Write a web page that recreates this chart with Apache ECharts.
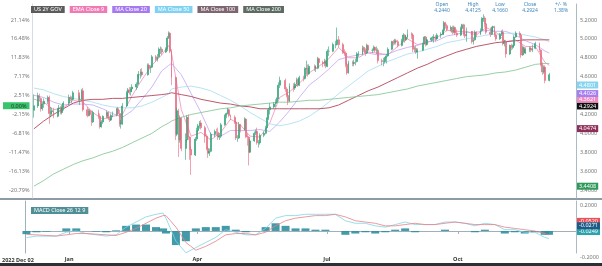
<!DOCTYPE html>
<html><head><meta charset="utf-8">
<script src="https://cdn.jsdelivr.net/npm/echarts@6/dist/echarts.min.js"></script>
<style>html,body{margin:0;padding:0;background:#fff}#c{width:602px;height:266px}</style>
</head><body><div id="c"></div>
<script>
// rows: [day, open, close, low, high]
const dec22 = [[2,4.244,4.2924,4.166,4.4125],[5,4.29,4.40,4.27,4.43],[6,4.40,4.37,4.34,4.42],[7,4.37,4.26,4.23,4.38],[8,4.26,4.31,4.24,4.33],[9,4.31,4.34,4.27,4.37],[12,4.34,4.38,4.31,4.40],[13,4.38,4.21,4.10,4.40],[14,4.21,4.23,4.17,4.28],[15,4.23,4.24,4.19,4.27],[16,4.24,4.18,4.16,4.27],[19,4.18,4.26,4.17,4.27],[20,4.26,4.27,4.21,4.30],[21,4.27,4.22,4.20,4.29],[22,4.22,4.28,4.20,4.30],[23,4.28,4.32,4.24,4.34],[27,4.32,4.38,4.30,4.41],[28,4.38,4.36,4.34,4.40],[29,4.36,4.36,4.32,4.39],[30,4.36,4.43,4.35,4.45]];
const jan23 = [[3,4.43,4.36,4.33,4.46],[4,4.36,4.36,4.30,4.40],[5,4.36,4.45,4.34,4.47],[6,4.45,4.25,4.23,4.48],[9,4.25,4.19,4.17,4.28],[10,4.19,4.24,4.18,4.26],[11,4.24,4.20,4.18,4.26],[12,4.20,4.12,4.08,4.24],[13,4.12,4.22,4.11,4.24],[17,4.22,4.18,4.15,4.25],[18,4.18,4.07,4.05,4.21],[19,4.07,4.12,4.06,4.14],[20,4.12,4.18,4.10,4.19],[23,4.18,4.22,4.16,4.24],[24,4.22,4.16,4.14,4.23],[25,4.16,4.14,4.12,4.18],[26,4.14,4.19,4.13,4.21],[27,4.19,4.20,4.17,4.23],[30,4.20,4.26,4.18,4.27],[31,4.26,4.21,4.19,4.28]];
const feb23 = [[1,4.21,4.10,4.07,4.25],[2,4.10,4.10,4.05,4.14],[3,4.10,4.29,4.09,4.32],[6,4.29,4.43,4.28,4.45],[7,4.43,4.46,4.37,4.48],[8,4.46,4.44,4.41,4.49],[9,4.44,4.47,4.40,4.49],[10,4.47,4.49,4.44,4.52],[13,4.49,4.52,4.46,4.54],[14,4.52,4.62,4.48,4.63],[15,4.62,4.62,4.58,4.66],[16,4.62,4.65,4.58,4.68],[17,4.65,4.62,4.60,4.69],[21,4.62,4.72,4.61,4.74],[22,4.72,4.69,4.67,4.74],[23,4.69,4.70,4.64,4.72],[24,4.70,4.81,4.69,4.83],[27,4.81,4.78,4.76,4.83],[28,4.78,4.81,4.76,4.84]];
const mar23 = [[1,4.81,4.89,4.80,4.91],[2,4.89,4.89,4.84,4.92],[3,4.89,4.86,4.83,4.91],[6,4.86,4.89,4.85,4.91],[7,4.89,5.01,4.87,5.03],[8,5.01,5.06,5.00,5.08],[9,5.06,4.87,4.85,5.07],[10,4.87,4.59,4.51,4.89],[13,4.59,3.99,3.93,4.60],[14,3.99,4.24,3.97,4.27],[15,4.24,3.93,3.75,4.26],[16,3.93,4.16,3.90,4.19],[17,4.16,3.84,3.81,4.17],[20,3.84,3.93,3.72,4.00],[21,3.93,4.17,3.91,4.19],[22,4.17,3.96,3.93,4.20],[23,3.96,3.83,3.72,3.97],[24,3.83,3.77,3.56,3.86],[27,3.77,3.94,3.76,3.96],[28,3.94,4.03,3.92,4.06],[29,4.03,4.08,4.01,4.10],[30,4.08,4.11,4.05,4.13],[31,4.11,4.06,4.04,4.14]];
const apr23 = [[3,4.06,3.97,3.90,4.08],[4,3.97,3.84,3.82,3.99],[5,3.84,3.79,3.74,3.86],[6,3.79,3.81,3.76,3.84],[7,3.81,3.99,3.80,4.01],[10,3.99,4.02,3.96,4.04],[11,4.02,4.01,3.98,4.05],[12,4.01,3.96,3.93,4.06],[13,3.96,3.97,3.93,4.00],[14,3.97,4.09,3.95,4.11],[17,4.09,4.19,4.08,4.20],[18,4.19,4.21,4.16,4.22],[19,4.21,4.25,4.20,4.27],[20,4.25,4.19,4.17,4.26],[21,4.19,4.17,4.14,4.20],[24,4.17,4.12,4.10,4.19],[25,4.12,3.95,3.93,4.13],[26,3.95,3.95,3.91,3.98],[27,3.95,4.09,3.94,4.12],[28,4.09,4.04,4.01,4.10]];
const may23 = [[1,4.04,4.15,4.03,4.17],[2,4.15,3.97,3.95,4.16],[3,3.97,3.96,3.87,4.00],[4,3.96,3.80,3.66,3.97],[5,3.80,3.92,3.79,3.94],[8,3.92,4.00,3.91,4.02],[9,4.00,4.02,3.98,4.04],[10,4.02,3.90,3.88,4.06],[11,3.90,3.90,3.85,3.93],[12,3.90,3.98,3.88,4.00],[15,3.98,4.00,3.96,4.02],[16,4.00,4.06,3.99,4.08],[17,4.06,4.16,4.05,4.17],[18,4.16,4.25,4.14,4.27],[19,4.25,4.28,4.20,4.32],[22,4.28,4.31,4.26,4.33],[23,4.31,4.33,4.28,4.36],[24,4.33,4.37,4.31,4.38],[25,4.37,4.51,4.36,4.54],[26,4.51,4.56,4.48,4.60],[30,4.56,4.47,4.44,4.58],[31,4.47,4.40,4.38,4.49]];
const jun23 = [[1,4.40,4.34,4.30,4.42],[2,4.34,4.50,4.33,4.53],[5,4.50,4.48,4.44,4.53],[6,4.48,4.52,4.46,4.54],[7,4.52,4.57,4.50,4.59],[8,4.57,4.51,4.49,4.58],[9,4.51,4.59,4.50,4.61],[12,4.59,4.58,4.55,4.61],[13,4.58,4.68,4.57,4.70],[14,4.68,4.69,4.62,4.77],[15,4.69,4.63,4.60,4.73],[16,4.63,4.71,4.62,4.73],[20,4.71,4.69,4.66,4.73],[21,4.69,4.69,4.65,4.72],[22,4.69,4.79,4.68,4.81],[23,4.79,4.75,4.72,4.80],[26,4.75,4.74,4.70,4.77],[27,4.74,4.76,4.71,4.79],[28,4.76,4.71,4.69,4.78],[29,4.71,4.87,4.70,4.89],[30,4.87,4.87,4.82,4.92]];
const jul23 = [[3,4.87,4.94,4.86,4.96],[5,4.94,4.94,4.90,4.98],[6,4.94,4.99,4.93,5.12],[7,4.99,4.94,4.91,5.03],[10,4.94,4.86,4.84,4.96],[11,4.86,4.85,4.82,4.89],[12,4.85,4.73,4.70,4.87],[13,4.73,4.64,4.62,4.75],[14,4.64,4.75,4.63,4.77],[17,4.75,4.74,4.71,4.77],[18,4.74,4.75,4.71,4.78],[19,4.75,4.76,4.72,4.79],[20,4.76,4.84,4.75,4.86],[21,4.84,4.84,4.81,4.87],[24,4.84,4.91,4.83,4.93],[25,4.91,4.88,4.86,4.92],[26,4.88,4.85,4.82,4.90],[27,4.85,4.93,4.84,4.95],[28,4.93,4.88,4.86,4.94],[31,4.88,4.88,4.85,4.90]];
const aug23 = [[1,4.88,4.91,4.87,4.93],[2,4.91,4.88,4.86,4.92],[3,4.88,4.88,4.84,4.92],[4,4.88,4.77,4.74,4.90],[7,4.77,4.76,4.72,4.79],[8,4.76,4.76,4.71,4.80],[9,4.76,4.80,4.74,4.81],[10,4.80,4.82,4.74,4.84],[11,4.82,4.89,4.81,4.91],[14,4.89,4.97,4.88,4.98],[15,4.97,4.96,4.93,4.99],[16,4.96,4.98,4.94,5.00],[17,4.98,4.97,4.94,5.00],[18,4.97,4.93,4.91,4.99],[21,4.93,4.98,4.92,5.00],[22,4.98,5.04,4.97,5.06],[23,5.04,4.99,4.96,5.05],[24,4.99,5.02,4.98,5.04],[25,5.02,5.05,5.00,5.10],[28,5.05,5.04,5.00,5.07],[29,5.04,4.89,4.86,5.06],[30,4.89,4.90,4.86,4.92],[31,4.90,4.86,4.84,4.93]];
const sep23 = [[1,4.86,4.88,4.79,4.90],[5,4.88,4.95,4.87,4.96],[6,4.95,5.02,4.94,5.03],[7,5.02,4.94,4.92,5.03],[8,4.94,4.99,4.93,5.00],[11,4.99,5.01,4.97,5.02],[12,5.01,5.01,4.98,5.03],[13,5.01,5.02,4.96,5.05],[14,5.02,5.00,4.97,5.04],[15,5.00,5.04,4.99,5.06],[18,5.04,5.05,5.01,5.07],[19,5.05,5.09,5.04,5.10],[20,5.09,5.17,5.04,5.19],[21,5.17,5.14,5.11,5.18],[22,5.14,5.10,5.08,5.16],[25,5.10,5.12,5.08,5.14],[26,5.12,5.07,5.05,5.14],[27,5.07,5.12,5.06,5.14],[28,5.12,5.06,5.04,5.13],[29,5.06,5.04,5.02,5.10]];
const oct23 = [[2,5.04,5.11,5.03,5.13],[3,5.11,5.15,5.09,5.16],[4,5.15,5.05,5.03,5.16],[5,5.05,5.03,5.01,5.07],[6,5.03,5.08,4.97,5.12],[10,5.08,4.97,4.95,5.04],[11,4.97,4.99,4.94,5.01],[12,4.99,5.07,4.98,5.09],[13,5.07,5.05,5.02,5.08],[16,5.05,5.09,5.04,5.11],[17,5.09,5.21,5.08,5.23],[18,5.21,5.22,5.18,5.26],[19,5.22,5.16,5.12,5.24],[20,5.16,5.07,5.05,5.17],[23,5.07,5.05,5.02,5.12],[24,5.05,5.12,5.04,5.13],[25,5.12,5.13,5.08,5.14],[26,5.13,5.04,5.02,5.14],[27,5.04,5.00,4.98,5.07],[30,5.00,5.05,4.99,5.06],[31,5.05,5.07,5.03,5.09]];
const nov23 = [[1,5.07,4.95,4.93,5.10],[2,4.95,4.97,4.92,4.99],[3,4.97,4.84,4.80,4.99],[6,4.84,4.93,4.83,4.94],[7,4.93,4.91,4.88,4.95],[8,4.91,4.93,4.89,4.94],[9,4.93,5.02,4.92,5.04],[10,5.02,5.06,5.01,5.08],[13,5.06,5.04,5.02,5.08],[14,5.04,4.83,4.80,5.05],[15,4.83,4.91,4.82,4.93],[16,4.91,4.85,4.83,4.92],[17,4.85,4.89,4.84,4.91],[20,4.89,4.90,4.86,4.92],[21,4.90,4.88,4.86,4.92],[22,4.88,4.90,4.86,4.94],[24,4.90,4.95,4.89,4.97],[27,4.95,4.88,4.86,4.96],[28,4.88,4.73,4.71,4.89],[29,4.73,4.65,4.62,4.75],[30,4.65,4.70,4.63,4.72]];
const dec23 = [[1,4.70,4.56,4.53,4.72],[4,4.56,4.62,4.55,4.64]];

// weekly sample dates for indicator lines
const weeks = ['2022-12-02','2022-12-09','2022-12-16','2022-12-23','2022-12-30',
 '2023-01-06','2023-01-13','2023-01-20','2023-01-27',
 '2023-02-03','2023-02-10','2023-02-17','2023-02-24',
 '2023-03-03','2023-03-08','2023-03-10','2023-03-17','2023-03-24','2023-03-31',
 '2023-04-07','2023-04-14','2023-04-21','2023-04-28',
 '2023-05-05','2023-05-12','2023-05-19','2023-05-26',
 '2023-06-02','2023-06-09','2023-06-16','2023-06-23','2023-06-30',
 '2023-07-07','2023-07-14','2023-07-21','2023-07-28',
 '2023-08-04','2023-08-11','2023-08-18','2023-08-25',
 '2023-09-01','2023-09-08','2023-09-15','2023-09-22','2023-09-29',
 '2023-10-06','2023-10-13','2023-10-20','2023-10-27',
 '2023-11-03','2023-11-10','2023-11-17','2023-11-24',
 '2023-12-01','2023-12-04'];
const ema9 = [4.3621,4.33,4.25,4.27,4.35, 4.33,4.22,4.15,4.18, 4.20,4.40,4.57,4.72, 4.83,4.93,4.85,4.25,3.97,4.01, 3.93,4.01,4.15,4.09, 3.97,3.96,4.11,4.38, 4.44,4.53,4.64,4.71,4.79, 4.91,4.80,4.80,4.86, 4.85,4.83,4.92,5.00, 4.94,4.96,5.01,5.09,5.08, 5.08,5.04,5.12,5.07, 4.97,4.99,4.92,4.92, 4.75,4.72];
const ma20 = [4.4026,4.38,4.33,4.30,4.31, 4.31,4.30,4.26,4.21, 4.17,4.24,4.36,4.49, 4.66,4.72,4.74,4.62,4.42,4.22, 3.99,3.97,4.03,4.03, 4.03,4.04,4.02,4.12, 4.24,4.38,4.51,4.59,4.68, 4.78,4.81,4.83,4.85, 4.83,4.84,4.88,4.91, 4.93,4.97,4.98,5.03,5.05, 5.07,5.07,5.09,5.08, 5.08,5.04,4.98,4.94, 4.87,4.85];
const ma50 = [4.4801,4.46,4.42,4.39,4.37, 4.35,4.33,4.30,4.28, 4.27,4.27,4.29,4.33, 4.38,4.42,4.47,4.49,4.50,4.48, 4.45,4.40,4.35,4.29, 4.22,4.16,4.10,4.08, 4.10,4.13,4.18,4.25,4.33, 4.42,4.50,4.58,4.66, 4.71,4.76,4.80,4.84, 4.86,4.89,4.92,4.96,4.98, 5.00,5.02,5.04,5.05, 5.06,5.06,5.04,5.02, 4.99,4.97];
const ma100 = [4.0474,4.13,4.20,4.26,4.32, 4.35,4.36,4.36,4.37, 4.37,4.38,4.39,4.40, 4.41,4.42,4.43,4.41,4.39,4.36, 4.34,4.32,4.31,4.29, 4.28,4.26,4.26,4.26, 4.26,4.26,4.26,4.26,4.27, 4.30,4.35,4.40,4.45, 4.49,4.54,4.59,4.64, 4.69,4.73,4.78,4.82,4.86, 4.89,4.92,4.94,4.96, 4.97,4.98,4.99,4.99, 4.99,4.99];
const ma200 = [3.4408,3.50,3.57,3.62,3.67, 3.71,3.74,3.78,3.81, 3.85,3.90,3.95,4.00, 4.07,4.11,4.13,4.17,4.20,4.22, 4.24,4.26,4.27,4.29, 4.30,4.31,4.32,4.33, 4.33,4.34,4.35,4.35,4.36, 4.37,4.38,4.39,4.40, 4.41,4.43,4.45,4.47, 4.50,4.52,4.54,4.56,4.58, 4.60,4.61,4.62,4.64, 4.65,4.67,4.70,4.73, 4.74,4.74];
const macdLine = [-0.052,-0.04,-0.04,-0.04,-0.01, 0.00,-0.02,-0.03,-0.04, -0.03,0.03,0.07,0.11, 0.13,0.14,0.10,-0.08,-0.17,-0.13, -0.09,-0.05,0.01,-0.01, -0.03,-0.03,0.02,0.10, 0.12,0.12,0.13,0.13,0.13, 0.13,0.08,0.06,0.06, 0.04,0.03,0.05,0.07, 0.05,0.05,0.05,0.07,0.07, 0.06,0.04,0.06,0.05, 0.01,0.01,-0.01,-0.01, -0.05,-0.06];
const signalLine = [-0.0271,-0.03,-0.035,-0.04,-0.03, -0.02,-0.02,-0.025,-0.03, -0.035,-0.01,0.02,0.06, 0.10,0.12,0.12,0.03,-0.09,-0.15, -0.12,-0.08,-0.03,-0.02, -0.02,-0.03,-0.01,0.04, 0.08,0.10,0.11,0.12,0.12, 0.13,0.11,0.08,0.07, 0.06,0.04,0.04,0.05, 0.06,0.05,0.05,0.06,0.07, 0.06,0.05,0.05,0.05, 0.03,0.02,0.01,0.00, -0.02,-0.03];
const histValues = [-0.0249,-0.01,-0.005,0.00,0.02, 0.02,0.00,-0.005,-0.01, 0.005,0.04,0.05,0.05, 0.03,0.02,-0.02,-0.11,-0.08,0.02, 0.03,0.03,0.04,0.01, -0.01,0.00,0.03,0.06, 0.04,0.02,0.02,0.01,0.01, 0.00,-0.03,-0.02,-0.01, -0.02,-0.01,0.01,0.02, -0.01,0.00,0.00,0.01,0.00, 0.00,-0.01,0.01,0.00, -0.02,-0.01,-0.02,-0.01, -0.03,-0.03];

const priceTicks = [3.4,3.6,3.8,4.0,4.2,4.4,4.6,4.8,5.0,5.2];
const macdTicks = [0.2];
const quarterTicks = ['2023-01-01','2023-04-01','2023-07-01','2023-10-01'];
const monthNames = ['Jan','Feb','Mar','Apr','May','Jun','Jul','Aug','Sep','Oct','Nov','Dec'];
const header = [['Open','4.2440'],['High','4.4125'],['Low','4.1660'],['Close','4.2924'],['+/- %','1.38%']];

const pad = n => String(n).padStart(2,'0');
const ts = s => { const p = s.split('-').map(Number); return new Date(p[0], p[1]-1, p[2]).getTime(); };
const months = [[2022,12,dec22],[2023,1,jan23],[2023,2,feb23],[2023,3,mar23],[2023,4,apr23],[2023,5,may23],[2023,6,jun23],[2023,7,jul23],[2023,8,aug23],[2023,9,sep23],[2023,10,oct23],[2023,11,nov23],[2023,12,dec23]];
const candles = [];
months.forEach(([y,m,rows]) => rows.forEach(r => candles.push([ts(`${y}-${pad(m)}-${pad(r[0])}`), r[1], r[2], r[3], r[4]])));
const baseClose = dec22[0][2];
const pair = arr => weeks.map((d,i) => [ts(d), arr[i]]);

const xMin = ts('2022-12-01'), xMax = ts('2023-12-23');
const FONT = 'Noto Sans';
const fs = 5.5;

function endLabel(bg, value, offsetY, fg) {
  return {
    silent: true, symbol: ['none', 'none'], animation: false,
    lineStyle: { color: 'rgba(0,0,0,0)', width: 1, type: 'solid' },
    emphasis: { disabled: true },
    label: { show: true, position: 'end', distance: 1, formatter: () => value.toFixed(4),
      backgroundColor: bg, color: fg || '#fff', fontSize: fs, fontFamily: FONT, padding: [1, 2, 0, 2], offset: [0, offsetY] },
    data: [{ yAxis: value }]
  };
}

const mainLine = (name, arr, color, w) => ({
  name, type: 'line', xAxisIndex: 0, yAxisIndex: 0, data: pair(arr), symbol: 'none',
  lineStyle: { color, width: w }, itemStyle: { color }, z: 2
});

const s1 = mainLine('EMA Close 9', ema9, '#f28dbb', 0.8);
s1.markLine = endLabel('#f08cc0', ema9[0], 0);
const s2 = mainLine('MA Close 20', ma20, '#c3a4f2', 0.8);
s2.markLine = endLabel('#a77ff0', ma20[0], -2);
const s3 = mainLine('MA Close 50', ma50, '#a6dcef', 0.8);
s3.markLine = endLabel('#86d4ef', ma50[0], -3);
const s4 = mainLine('MA Close 100', ma100, '#b3475c', 0.9);
s4.markLine = endLabel('#8e2f58', ma100[0], 0);
const s5 = mainLine('MA Close 200', ma200, '#8cc99c', 0.9);
s5.markLine = endLabel('#2f9a5a', ma200[0], 0);

const legendItem = (name, bg) => ({ name, textStyle: { backgroundColor: bg, color: '#fff', padding: [1, 3, 0, 3], fontSize: fs, fontFamily: FONT } });

const option = {
  animation: false,
  textStyle: { fontFamily: FONT },
  legend: [
    { left: 21, top: 1, itemGap: 0, itemWidth: 0, itemHeight: 0, icon: 'none', selectedMode: false,
      data: [legendItem('US 2Y GOV', '#5b5b5b'), legendItem('EMA Close 9', '#f07ab4'), legendItem('MA Close 20', '#a57af0'),
             legendItem('MA Close 50', '#7fd2f2'), legendItem('MA Close 100', '#7e6670'), legendItem('MA Close 200', '#5d6b62')] },
    { left: 21, top: 202, itemGap: 0, itemWidth: 0, itemHeight: 0, icon: 'none', selectedMode: false,
      data: [legendItem('MACD Close 26 12 9', '#4f8f96')] }
  ],
  grid: [
    { left: 25, right: 26, top: 4, height: 194 },
    { left: 25, right: 26, top: 201, height: 52 }
  ],
  xAxis: [
    { type: 'time', gridIndex: 0, min: xMin, max: xMax, show: false, splitLine: { show: false } },
    { type: 'value', gridIndex: 1, min: xMin, max: xMax, splitLine: { show: false },
      axisLine: { lineStyle: { color: '#9fb0ba' } },
      axisTick: { customValues: quarterTicks.map(ts), length: 3, lineStyle: { color: '#9fb0ba' } },
      axisLabel: { customValues: quarterTicks.map(ts), formatter: v => monthNames[new Date(v).getMonth()],
        fontSize: fs, color: '#333', fontWeight: 'bold', margin: 3, fontFamily: FONT } }
  ],
  yAxis: [
    { type: 'value', gridIndex: 0, position: 'right', min: 3.3153, max: 5.3694, splitLine: { show: false },
      axisLine: { show: true, lineStyle: { color: '#a9bcc6' } }, axisTick: { show: false },
      axisLabel: { customValues: priceTicks, formatter: v => v.toFixed(4), fontSize: fs, color: '#777', margin: 4, fontFamily: FONT } },
    { type: 'value', gridIndex: 0, position: 'left', min: 3.3153, max: 5.3694, splitLine: { show: false },
      axisLine: { show: true, lineStyle: { color: '#d5dde2' } }, axisTick: { show: false },
      axisLabel: { customValues: priceTicks.concat([baseClose]), margin: 3, fontSize: fs, color: '#777', fontFamily: FONT,
        formatter: v => Math.abs(v - baseClose) < 1e-9 ? '{z|0.00%}' : ((v / baseClose - 1) * 100).toFixed(2) + '%',
        rich: { z: { backgroundColor: '#37c46b', color: '#1d3a26', padding: [1, 3, 0, 8], fontSize: fs, fontFamily: FONT } } } },
    { type: 'value', gridIndex: 1, position: 'right', min: -0.172, max: 0.234, splitLine: { show: false },
      axisLine: { show: true, lineStyle: { color: '#a9bcc6' } }, axisTick: { show: false },
      axisLabel: { customValues: macdTicks, formatter: v => v.toFixed(4), fontSize: fs, color: '#777', margin: 4, fontFamily: FONT } },
    { type: 'value', gridIndex: 1, position: 'left', min: -0.172, max: 0.234, splitLine: { show: false },
      axisLine: { show: true, lineStyle: { color: '#9fb0ba' } }, axisTick: { show: false }, axisLabel: { show: false } }
  ],
  series: [
    { name: 'US 2Y GOV', type: 'candlestick', xAxisIndex: 0, yAxisIndex: 0, data: candles,
      encode: { x: 0, y: [1, 2, 3, 4] }, barWidth: 1.4, z: 3,
      itemStyle: { color: '#2a9f73', color0: '#e4667a', borderColor: '#2a9f73', borderColor0: '#e4667a', borderWidth: 0.6 },
      markLine: endLabel('#111111', baseClose, 0) },
    s1, s2, s3, s4, s5,
    { name: 'MACD hist', type: 'bar', xAxisIndex: 1, yAxisIndex: 2, data: pair(histValues), barWidth: 8,
      itemStyle: { color: '#2f8fa0', opacity: 0.9 }, markLine: endLabel('#2aa3ad', histValues[0], -2) },
    { name: 'MACD Close 26 12 9', type: 'line', xAxisIndex: 1, yAxisIndex: 2, data: pair(macdLine), symbol: 'none',
      lineStyle: { color: '#7fd6e6', width: 0.8 }, itemStyle: { color: '#7fd6e6' }, markLine: endLabel('#e8505a', macdLine[0], -16) },
    { name: 'Signal', type: 'line', xAxisIndex: 1, yAxisIndex: 2, data: pair(signalLine), symbol: 'none',
      lineStyle: { color: '#e88088', width: 0.8 }, itemStyle: { color: '#e88088' }, markLine: endLabel('#1e5a86', signalLine[0], -9) }
  ],
  graphic: [
    { type: 'rect', shape: { x: 0, y: 198, width: 602, height: 2 }, style: { fill: '#8d9ca4' }, silent: true },
    { type: 'rect', shape: { x: 0, y: 263, width: 602, height: 3 }, style: { fill: '#2c3034' }, silent: true },
    { type: 'text', left: 2, top: 257, style: { text: '2022 Dec 02', fontSize: fs, fontWeight: 'bold', fill: '#333', fontFamily: FONT } },
    { type: 'text', left: 580, top: 254, style: { text: '-0.2000', fontSize: fs, fill: '#777', fontFamily: FONT } }
  ].concat(header.map((h, i) => ({
    type: 'text', x: [442, 473, 500, 530, 561][i], y: 2,
    style: { text: h[0] + '\n' + h[1], fontSize: 5, fill: '#3f86bd', align: 'center', lineHeight: 6, fontFamily: FONT }
  })))
};

const chart = echarts.init(document.getElementById('c'), null, { renderer: 'canvas' });
chart.setOption(option);
</script>
</body></html>
